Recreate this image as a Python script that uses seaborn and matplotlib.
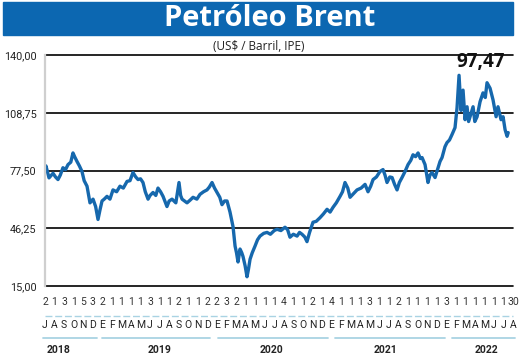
import matplotlib
matplotlib.use("Agg")
import matplotlib.pyplot as plt
import matplotlib.transforms as mtransforms
from matplotlib.patches import Rectangle
import seaborn as sns
import pandas as pd

# ---------------- data ----------------
month_pos = [
    # 2018
    0, 0.1, 0.42, 0.84, 1.1, 1.36, 1.6, 1.88, 2.15, 2.41, 2.7, 2.93, 3.1, 3.35, 3.6,
    3.87, 4.1, 4.4, 4.71, 5.03, 5.3, 5.55, 5.75,
    # 2019
    5.97, 6.2, 6.49, 6.8, 7.12, 7.5, 7.85, 8.2, 8.59, 8.9, 9.21, 9.5, 9.74, 10.0, 10.26,
    10.5, 10.79, 11.0, 11.31, 11.6, 11.83, 12.1, 12.36, 12.77, 13.0, 13.3, 13.7, 14.03,
    14.2, 14.35, 14.87, 15.2, 15.5, 15.9, 16.23, 16.6, 16.96, 17.2, 17.49,
    # 2020
    17.75, 18.01, 18.3, 18.53, 18.8, 19.06, 19.37, 19.69, 19.9, 20.05, 20.21, 20.42,
    20.6, 20.73, 20.95, 21.15, 21.3, 21.47, 21.7, 21.99, 22.25, 22.51, 22.9, 23.25,
    23.6, 24.0, 24.29, 24.7, 25.13, 25.4, 25.65, 26.0, 26.39, 26.65, 26.91, 27.2,
    27.43, 27.7, 28.06, 28.4, 28.8,
    # 2021
    29.15, 29.53, 29.85, 30.16, 30.5, 30.89, 31.15, 31.41, 31.7, 31.94, 32.3, 32.67,
    33.1, 33.51, 33.82, 34.1, 34.35, 34.7, 35.08, 35.39, 35.6, 35.81, 36.1, 36.34,
    36.6, 36.86, 37.1, 37.38, 37.7, 38.01, 38.3, 38.53, 38.8, 39.06, 39.3, 39.48,
    39.79, 40.1, 40.3,
    # 2022
    40.52, 40.84, 41.1, 41.36, 41.57, 41.88, 42.09, 42.35, 42.62, 42.93, 43.14, 43.35,
    43.56, 43.77, 43.98, 44.19, 44.35, 44.5, 44.82, 45.0, 45.24, 45.55, 45.86, 46.1,
    46.28, 46.6, 46.91, 47.23, 47.43, 47.75, 47.96, 48.17, 48.38, 48.5,
]
brent = [
    # 2018
    78, 80, 73.5, 76, 74, 72.6, 75, 79, 78, 80.7, 82, 87, 85, 82.4, 80,
    77, 72, 69, 60, 62, 58, 51, 56,
    # 2019
    61, 62, 63.5, 62, 67, 66, 69, 68, 71.6, 72, 76.4, 74, 72.6, 73, 71,
    66, 62, 64, 65.6, 64, 68, 66, 63.5, 58, 61, 62, 60, 71,
    64, 62, 60, 61.5, 63, 62, 64.6, 66, 67, 68.5, 71,
    # 2020
    68, 65.6, 63, 59, 61, 61, 55, 47, 36.6, 33, 28, 35,
    33, 31, 26, 20, 24, 29.5, 33, 36.6, 40, 42, 43.5, 44,
    43, 45, 45.7, 45, 46.8, 45.5, 41.4, 43, 42, 44, 43, 41.5,
    39, 44, 49.5, 50, 52,
    # 2021
    54, 56.5, 55, 57.6, 60, 63.5, 66, 71, 68, 63, 65, 67,
    68, 70, 66, 69, 72.6, 74, 77, 78, 75, 71, 74, 73.7,
    70, 67, 71, 73.7, 77, 80.7, 83, 86, 85, 87, 84, 84.5,
    80.7, 71, 75,
    # 2022
    76.4, 73.7, 78, 82.4, 84.5, 90.4, 92.6, 94, 97, 100.7, 111.4, 129,
    110, 121, 105, 112, 104, 106.6, 112, 104, 106.6, 114.7, 119.5, 117,
    125, 122, 115.7, 106.6, 112, 105, 106.6, 99.6, 96, 98,
]

day_labels = ["2", "1", "3", "1", "5", "3",
              "2", "1", "1", "1", "1", "3", "1", "1", "2", "1", "1", "2",
              "2", "3", "2", "1", "1", "1", "1", "4", "1", "1", "2", "1",
              "4", "1", "1", "1", "3", "1", "1", "2", "1", "1", "1", "1",
              "3", "1", "1", "1", "1", "1", "1", "30"]
month_labels = ["J", "A", "S", "O", "N", "D",
                "E", "F", "M", "A", "M", "J", "J", "A", "S", "O", "N", "D",
                "E", "F", "M", "A", "M", "J", "J", "A", "S", "O", "N", "D",
                "E", "F", "M", "A", "M", "J", "J", "A", "S", "O", "N", "D",
                "E", "F", "M", "A", "M", "J", "J", "A"]
years = ["2018", "2019", "2020", "2021", "2022"]
year_spans = [(-0.2, 5.4), (6.0, 17.3), (18.1, 29.6), (30.4, 41.9), (42.6, 49.2)]
year_label_pos = [1.4, 12.0, 23.7, 35.7, 46.2]
y_ticks = [15.0, 46.25, 77.5, 108.75, 140.0]
y_tick_labels = ["15,00", "46,25", "77,50", "108,75", "140,00"]
last_value_label = "97,47"

SMALL = "Roboto"
TITLE_FONT = "Open Sans"

sns.set_theme(style="white")
plt.rcParams["font.family"] = [SMALL, "DejaVu Sans"]

W, H = 520, 358
fig = plt.figure(figsize=(W / 100, H / 100), dpi=100)
fig.patch.set_facecolor("white")

def fx(px):
    return px / W

def fy(py):
    return 1 - py / H

ax = fig.add_axes([fx(45), fy(286), fx(513) - fx(45), fy(55) - fy(286)])

df = pd.DataFrame({"m": month_pos, "v": brent})
sns.lineplot(data=df, x="m", y="v", ax=ax, color="#1668ad", linewidth=2.4,
             sort=False, estimator=None)

ax.set_xlim(0, 49)
ax.set_ylim(15, 140)
ax.set_xlabel("")
ax.set_ylabel("")

for sp in ["top", "right", "bottom"]:
    ax.spines[sp].set_visible(False)
ax.spines["left"].set_color("#cfcfcf")
ax.spines["left"].set_linewidth(1.6)

for yv in y_ticks:
    ax.axhline(yv, color="black", lw=1.2, clip_on=False, zorder=1)

ax.set_yticks(y_ticks)
ax.set_yticklabels(y_tick_labels, fontsize=7.8, color="#222222", family=SMALL)
ax.tick_params(axis="y", length=0, pad=6)

ax.set_xticks(range(len(day_labels)))
ax.set_xticklabels(day_labels, fontsize=7.5, color="#333333", family=SMALL)
ax.tick_params(axis="x", length=0, pad=8)

trans = mtransforms.blended_transform_factory(ax.transData, fig.transFigure)

# dashed separator
ax.plot([0, 49], [fy(316), fy(316)], transform=trans, color="#a9d3e3",
        lw=1.0, ls=(0, (5, 2)), clip_on=False)
for i, lab in enumerate(month_labels):
    ax.text(i, fy(325.5), lab, transform=trans, ha="center", va="center",
            fontsize=7.5, color="#222222", family=SMALL)
for (a, b) in year_spans:
    ax.plot([a, b], [fy(338), fy(338)], transform=trans, color="#a9d3e3",
            lw=1.3, clip_on=False)
for yl, xp in zip(years, year_label_pos):
    ax.text(xp, fy(350), yl, transform=trans, ha="center", va="center",
            fontsize=7.5, fontweight="bold", color="#222222", family=SMALL)

# title banner
fig.patches.append(Rectangle((fx(3), fy(35)), fx(513) - fx(3), fy(2) - fy(35),
                             transform=fig.transFigure, color="#0c67b1", zorder=0))
fig.text(fx(270), fy(19), "Petróleo Brent", ha="center", va="center",
         fontsize=21, fontweight="bold", color="white", family=TITLE_FONT)
fig.text(fx(259), fy(46), "(US$ / Barril, IPE)", ha="center", va="center",
         fontsize=8.5, color="#222222", family=[TITLE_FONT, "DejaVu Sans"])
fig.text(fx(505), fy(62), last_value_label, ha="right", va="center",
         fontsize=13.5, fontweight="bold", color="#111111", family=TITLE_FONT)

fig.savefig("out.png", dpi=100)
